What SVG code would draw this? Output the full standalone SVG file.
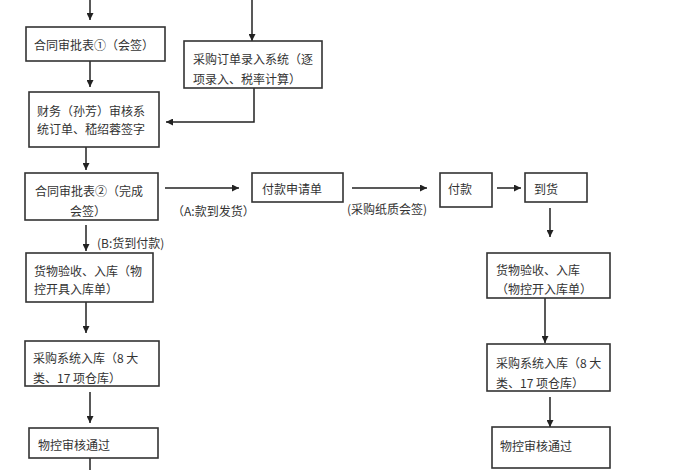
<svg xmlns="http://www.w3.org/2000/svg" width="700" height="470" viewBox="0 0 700 470">
<style>
.box{fill:#fff;stroke:#333;stroke-width:1.6}
.t{font-family:"Noto Sans CJK SC","Noto Sans",sans-serif;font-size:12px;fill:#333;dominant-baseline:central}
.c{fill:none;stroke:#222;stroke-width:1.5}
</style>
<defs>
<marker id="ah" viewBox="0 0 10 10" refX="10" refY="5" markerWidth="7" markerHeight="7" markerUnits="userSpaceOnUse" orient="auto">
<path d="M0,0 L10,5 L0,10 z" fill="#222"/>
</marker>
</defs>
<rect width="700" height="470" fill="#fff"/>
<g id="connectors">
<path class="c" d="M90,0 V20" marker-end="url(#ah)"/>
<path class="c" d="M252,0 V41" marker-end="url(#ah)"/>
<path class="c" d="M90,61 V87" marker-end="url(#ah)"/>
<path class="c" d="M254,88 V122 H166" marker-end="url(#ah)"/>
<path class="c" d="M86,147 V170" marker-end="url(#ah)"/>
<path class="c" d="M165,188 H239" marker-end="url(#ah)"/>
<path class="c" d="M352,188 H427" marker-end="url(#ah)"/>
<path class="c" d="M497,188 H521" marker-end="url(#ah)"/>
<path class="c" d="M550,208 V237" marker-end="url(#ah)"/>
<path class="c" d="M86,225 V251" marker-end="url(#ah)"/>
<path class="c" d="M86,302 V333" marker-end="url(#ah)"/>
<path class="c" d="M545,298 V343" marker-end="url(#ah)"/>
<path class="c" d="M90,392 V423" marker-end="url(#ah)"/>
<path class="c" d="M550,397 V427" marker-end="url(#ah)"/>
<path class="c" d="M90,458 V470"/>
<text class="t" x="172" y="210">（A:款到发货）</text>
<text class="t" x="97" y="242">(B:货到付款)</text>
<text class="t" x="347" y="208">(采购纸质会签)</text>
</g>
<g id="n1"><rect class="box" x="26" y="27" width="139" height="34"/><text class="t" x="34" y="44">合同审批表①（会签）</text></g>
<g id="n2"><rect class="box" x="184" y="41" width="138" height="47"/><text class="t" x="193" y="58">采购订单录入系统（逐</text><text class="t" x="193" y="78">项录入、税率计算）</text></g>
<g id="n3"><rect class="box" x="29" y="92" width="130" height="55"/><text class="t" x="37" y="110">财务（孙芳）审核系</text><text class="t" x="37" y="128">统订单、嵇绍蓉签字</text></g>
<g id="n4"><rect class="box" x="25" y="173" width="133" height="47"/><text class="t" x="35" y="190">合同审批表②（完成</text><text class="t" x="70" y="210">会签）</text></g>
<g id="n5"><rect class="box" x="252" y="173" width="91" height="29"/><text class="t" x="262" y="188">付款申请单</text></g>
<g id="n6"><rect class="box" x="440" y="173" width="52" height="34"/><text class="t" x="448" y="188">付款</text></g>
<g id="n7"><rect class="box" x="525" y="173" width="62" height="29"/><text class="t" x="534" y="188">到货</text></g>
<g id="n8"><rect class="box" x="26" y="253" width="127" height="49"/><text class="t" x="34" y="270">货物验收、入库（物</text><text class="t" x="34" y="288">控开具入库单）</text></g>
<g id="n9"><rect class="box" x="487" y="253" width="123" height="45"/><text class="t" x="496" y="269">货物验收、入库</text><text class="t" x="496" y="288">（物控开入库单）</text></g>
<g id="n10"><rect class="box" x="25" y="341" width="134" height="45"/><text class="t" x="33" y="357">采购系统入库（8 大</text><text class="t" x="33" y="377">类、17 项仓库）</text></g>
<g id="n11"><rect class="box" x="487" y="344" width="123" height="47"/><text class="t" x="496" y="362">采购系统入库（8 大</text><text class="t" x="496" y="382">类、17 项仓库）</text></g>
<g id="n12"><rect class="box" x="29" y="428" width="129" height="30"/><text class="t" x="38" y="444">物控审核通过</text></g>
<g id="n13"><rect class="box" x="492" y="427" width="118" height="41"/><text class="t" x="500" y="445">物控审核通过</text></g>
</svg>
